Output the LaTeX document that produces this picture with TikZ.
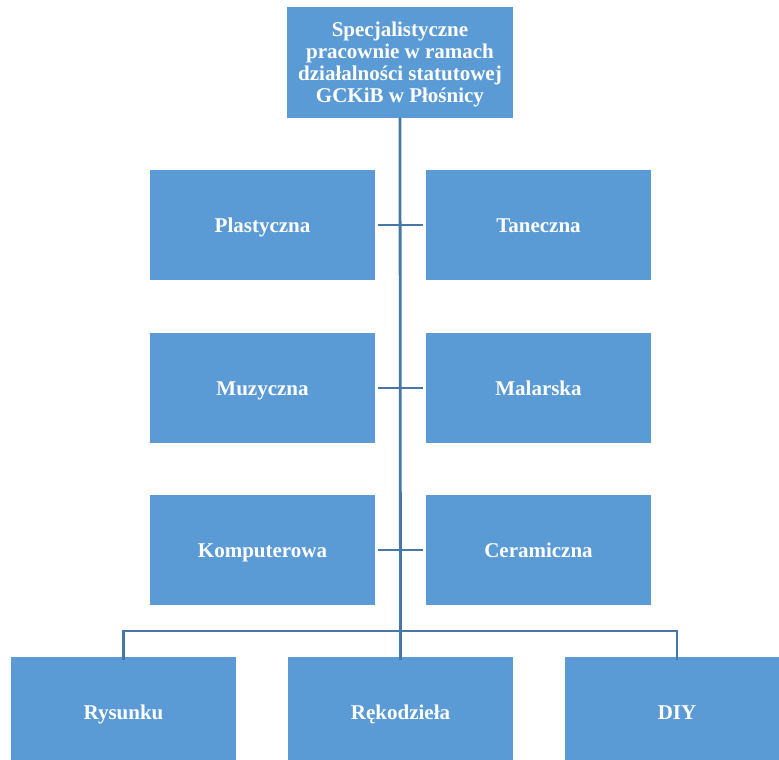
\documentclass[tikz,border=0pt]{standalone}
\usepackage{fontspec}
\setmainfont{Liberation Serif}
\definecolor{boxblue}{HTML}{5B9BD5}
\definecolor{lineblue}{HTML}{4677A8}
\tikzset{
  unit/.style={fill=boxblue, text=white, minimum width=225pt, minimum height=110pt,
    inner sep=0pt, align=center, font=\fontsize{21}{22}\selectfont\bfseries},
  one/.style={text height=16pt, text depth=2pt},
  link/.style={draw=lineblue, line width=2.8pt}
}
\begin{document}
\begin{tikzpicture}[x=1pt,y=-1pt]
    \useasboundingbox (0,0) rectangle (779,760);

    \node[unit, minimum width=226pt, minimum height=111pt] (top) at (400,62.5)
      {\rule{0pt}{19pt}Specjalistyczne\\pracownie w ramach\\działalności statutowej\\GCKiB w Płośnicy};

    \node[unit, one] (plast) at (262.5,225) {Plastyczna};
    \node[unit, one] (tan)   at (538.5,225) {Taneczna};
    \node[unit, one] (muz)   at (262.5,388) {Muzyczna};
    \node[unit, one] (mal)   at (538.5,388) {Malarska};
    \node[unit, one] (komp)  at (262.5,550) {Komputerowa};
    \node[unit, one] (cer)   at (538.5,550) {Ceramiczna};

    \node[unit, one] (rys) at (123.5,712) {Rysunku};
    \node[unit, one] (rek) at (400.5,712) {Rękodzieła};
    \node[unit, one] (diy) at (677,712)   {DIY};

    % trunk and side ticks
    \draw[link] (top.south) -- ([yshift=-3pt]rek.north);
    \foreach \l/\r in {plast/tan, muz/mal, komp/cer}
      \draw[link] ([xshift=3pt]\l.east) -- ([xshift=-3pt]\r.west);

    % bottom bar
    \coordinate (bar) at (400,631);
    \draw[link] ([yshift=-3pt]rys.north) |- (bar) -| ([yshift=-3pt]diy.north);
\end{tikzpicture}
\end{document}
